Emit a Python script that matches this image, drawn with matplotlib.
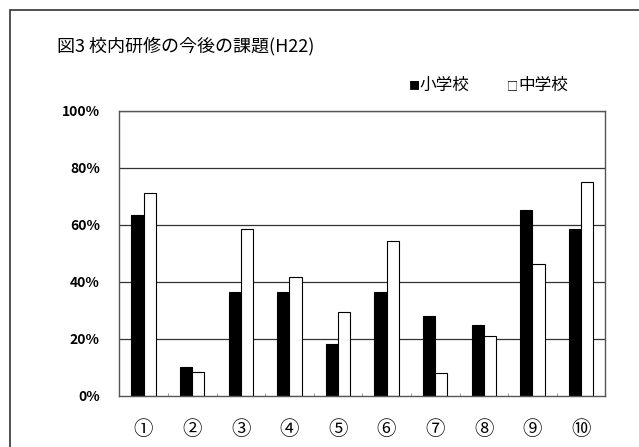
import matplotlib.pyplot as plt
from matplotlib.patches import Rectangle
import numpy as np

plt.rcParams['font.family'] = ['Noto Sans CJK JP', 'DejaVu Sans']

# data (percent)
labels = ['①', '②', '③', '④', '⑤', '⑥', '⑦', '⑧', '⑨', '⑩']
shogakko = [63.5, 10, 36.5, 36.5, 18.2, 36.5, 28.1, 24.9, 65.2, 58.4]
chugakko = [71.0, 8.2, 58.4, 41.5, 29.4, 54.3, 8.1, 21.0, 46.1, 75.1]
yticks = [0, 20, 40, 60, 80, 100]

fig = plt.figure(figsize=(6.39, 4.47), dpi=100)
ax = fig.add_axes([0.1867, 0.1148, 0.7606, 0.6375])

# outer frame (cut off at right/bottom like the reference)
fig.patches.append(Rectangle((10/639, -0.1), 1.2, 1 - 10/447 + 0.1,
                             transform=fig.transFigure, fill=False,
                             edgecolor='#333333', lw=1.2))

x = np.arange(len(labels))
w = 0.25
for yv in yticks[1:]:
    ax.axhline(yv, color='#333333', lw=0.9, zorder=0)
ax.bar(x - w/2, shogakko, w, color='black', edgecolor='black', lw=0.8, zorder=2)
ax.bar(x + w/2, chugakko, w, color='white', edgecolor='black', lw=0.8, zorder=2)

ax.set_xlim(-0.5, 9.5)
ax.set_ylim(0, 100)
ax.set_yticks(yticks)
ax.set_yticklabels([f'{v}%' for v in yticks], fontsize=10, fontweight='bold')
ax.tick_params(axis='y', length=0, pad=14)
ax.set_xticks(x)
ax.set_xticklabels(labels, fontsize=14)
ax.tick_params(axis='x', which='major', length=0, pad=17)
ax.set_xticks(np.arange(-0.5, 10, 1), minor=True)
ax.tick_params(axis='x', which='minor', direction='in', length=2.5, color='#888888')
for s in ax.spines.values():
    s.set_color('#555555')
    s.set_linewidth(1.0)

fig.text(57/639, 1 - 46/447, '図3 校内研修の今後の課題(H22)', fontsize=13,
         va='center', ha='left')
fig.text(409/639, 1 - 86/447, '■', fontsize=8, va='center', ha='left')
fig.text(419/639, 1 - 85/447, '小学校', fontsize=12, va='center', ha='left')
fig.text(507/639, 1 - 86/447, '□', fontsize=8, va='center', ha='left')
fig.text(518/639, 1 - 85/447, '中学校', fontsize=12, va='center', ha='left')

fig.savefig('out.png', dpi=100)
